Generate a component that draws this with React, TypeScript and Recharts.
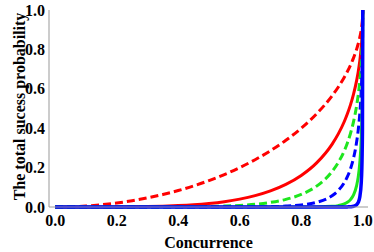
import React from 'react'
import { LineChart, Line, XAxis, YAxis, Label } from 'recharts'

// values
const concurrence = [0, 0.05, 0.1, 0.15, 0.2, 0.25, 0.3, 0.35, 0.4, 0.45, 0.5, 0.55, 0.6, 0.65, 0.7, 0.75, 0.8, 0.85, 0.9, 0.92, 0.94, 0.95, 0.96, 0.97, 0.98, 0.985, 0.99, 0.995, 0.998, 0.999, 1]
const redDashed = [0, 0.0013, 0.005, 0.0113, 0.0202, 0.0318, 0.0461, 0.0633, 0.0835, 0.107, 0.134, 0.1648, 0.2, 0.2401, 0.2859, 0.3386, 0.4, 0.4732, 0.5641, 0.6081, 0.6588, 0.6878, 0.72, 0.7569, 0.801, 0.8274, 0.8589, 0.9001, 0.9368, 0.9553, 1]
const redSolid = [0, 0, 0, 0.0001, 0.0004, 0.001, 0.0021, 0.004, 0.007, 0.0114, 0.018, 0.0272, 0.04, 0.0576, 0.0817, 0.1147, 0.16, 0.2239, 0.3182, 0.3698, 0.434, 0.4731, 0.5184, 0.5729, 0.6416, 0.6846, 0.7377, 0.8102, 0.8776, 0.9126, 1]
const greenDashed = [0, 0, 0, 0, 0, 0.00003, 0.0001, 0.00025, 0.0006, 0.0012, 0.0024, 0.0045, 0.008, 0.0138, 0.0234, 0.0388, 0.064, 0.106, 0.1795, 0.2249, 0.2859, 0.3254, 0.3732, 0.4336, 0.5139, 0.5664, 0.6336, 0.7293, 0.8221, 0.8718, 1]
const blueDashed = [0, 0, 0, 0, 0, 0, 0, 0, 0, 0.00001, 0.00004, 0.00012, 0.00032, 0.0008, 0.0019, 0.0045, 0.0102, 0.0237, 0.0571, 0.0832, 0.1241, 0.154, 0.1935, 0.2484, 0.3297, 0.3878, 0.4675, 0.5909, 0.7215, 0.7956, 1]
const greenSolid = [0, 0, 0, 0, 0, 0, 0, 0, 0, 0, 0, 0, 0, 0, 0, 0.00002, 0.0001, 0.00056, 0.0033, 0.0069, 0.0154, 0.0237, 0.0374, 0.0617, 0.1087, 0.1504, 0.2186, 0.3492, 0.5206, 0.633, 1]
const blueSolid = [0, 0, 0, 0, 0, 0, 0, 0, 0, 0, 0, 0, 0, 0, 0, 0, 0, 0, 0, 0.0001, 0.0002, 0.0006, 0.0014, 0.0038, 0.0118, 0.0226, 0.0478, 0.1219, 0.271, 0.4007, 1]

const majorTicks = [0, 0.2, 0.4, 0.6, 0.8, 1]
const minorTicks = [0, 0.05, 0.1, 0.15, 0.2, 0.25, 0.3, 0.35, 0.4, 0.45, 0.5, 0.55, 0.6, 0.65, 0.7, 0.75, 0.8, 0.85, 0.9, 0.95, 1]

const data = concurrence.map((c, i) => ({
  c,
  rd: redDashed[i],
  rs: redSolid[i],
  gd: greenDashed[i],
  bd: blueDashed[i],
  gs: greenSolid[i],
  bs: blueSolid[i],
}))

const X_DOMAIN: [number, number] = [-0.02, 1.017]
const Y_DOMAIN: [number, number] = [0, 1]
const FONT = 'Liberation Serif, Times New Roman, serif'
const FRAME = '#999'
const RED = '#ff0000'
const GREEN = '#1ee61e'
const BLUE = '#0000ff'
const DASH = '8 4'

const tickText = { fill: '#000', fontSize: 16, fontWeight: 'bold' as const, fontFamily: FONT, style: { fontFamily: FONT } }
const fmt = (v: number) => v.toFixed(1)

const YTitle = (props: any) => {
  const vb = props.viewBox
  const x = vb.x + 16.5
  const y = vb.y + vb.height / 2 - 2
  return (
    <text
      x={x}
      y={y}
      transform={`rotate(-90 ${x} ${y})`}
      textAnchor="middle"
      fill="#000"
      style={{ fontFamily: FONT, fontSize: 16, fontWeight: 'bold' }}
    >
      The total sucess probability
    </text>
  )
}

export default function App() {
  return (
    <div style={{ position: 'absolute', left: 0, top: 0, width: 374, height: 252, background: '#fff', fontFamily: FONT }}>
      <LineChart width={374} height={252} data={data} margin={{ top: 10, right: 6, bottom: 4, left: 8 }}>
        {/* inward frame ticks (Mathematica style) */}
        <XAxis xAxisId="bMaj" type="number" domain={X_DOMAIN} ticks={majorTicks} orientation="bottom" mirror height={0}
          tick={false} tickSize={4.5} axisLine={false} tickLine={{ stroke: FRAME }} />
        <XAxis xAxisId="bMin" type="number" domain={X_DOMAIN} ticks={minorTicks} orientation="bottom" mirror height={0}
          tick={false} tickSize={2.5} axisLine={false} tickLine={{ stroke: FRAME }} />
        <XAxis xAxisId="tMaj" type="number" domain={X_DOMAIN} ticks={majorTicks} orientation="top" mirror height={0}
          tick={false} tickSize={4.5} axisLine={{ stroke: FRAME }} tickLine={{ stroke: FRAME }} />
        <XAxis xAxisId="tMin" type="number" domain={X_DOMAIN} ticks={minorTicks} orientation="top" mirror height={0}
          tick={false} tickSize={2.5} axisLine={false} tickLine={{ stroke: FRAME }} />
        <YAxis yAxisId="lMaj" type="number" domain={Y_DOMAIN} ticks={majorTicks} orientation="left" mirror width={0}
          tick={false} tickSize={4.5} axisLine={false} tickLine={{ stroke: FRAME }} />
        <YAxis yAxisId="lMin" type="number" domain={Y_DOMAIN} ticks={minorTicks} orientation="left" mirror width={0}
          tick={false} tickSize={2.5} axisLine={false} tickLine={{ stroke: FRAME }} />
        <YAxis yAxisId="rMaj" type="number" domain={Y_DOMAIN} ticks={majorTicks} orientation="right" mirror width={0}
          tick={false} tickSize={4.5} axisLine={{ stroke: FRAME }} tickLine={{ stroke: FRAME }} />
        <YAxis yAxisId="rMin" type="number" domain={Y_DOMAIN} ticks={minorTicks} orientation="right" mirror width={0}
          tick={false} tickSize={2.5} axisLine={false} tickLine={{ stroke: FRAME }} />

        <XAxis
          xAxisId="x"
          type="number"
          dataKey="c"
          domain={X_DOMAIN}
          ticks={majorTicks}
          tickFormatter={fmt}
          height={41}
          tickLine={false}
          axisLine={{ stroke: FRAME }}
          tick={tickText}
        >
          <Label value="Concurrence" position="insideBottom" offset={0}
            style={{ fill: '#000', fontSize: 16, fontWeight: 'bold', fontFamily: FONT }} />
        </XAxis>
        <YAxis
          yAxisId="y"
          type="number"
          domain={Y_DOMAIN}
          ticks={majorTicks}
          tickFormatter={fmt}
          width={41}
          tickLine={false}
          tickSize={2}
          tickMargin={2}
          axisLine={{ stroke: FRAME }}
          tick={tickText}
        >
          <Label content={YTitle} />
        </YAxis>

        <Line xAxisId="x" yAxisId="y" type="monotone" dataKey="rd" stroke={RED} strokeWidth={3} strokeDasharray={DASH} dot={false} isAnimationActive={false} />
        <Line xAxisId="x" yAxisId="y" type="monotone" dataKey="rs" stroke={RED} strokeWidth={3} dot={false} isAnimationActive={false} />
        <Line xAxisId="x" yAxisId="y" type="monotone" dataKey="gd" stroke={GREEN} strokeWidth={3} strokeDasharray={DASH} dot={false} isAnimationActive={false} />
        <Line xAxisId="x" yAxisId="y" type="monotone" dataKey="bd" stroke={BLUE} strokeWidth={3} strokeDasharray={DASH} dot={false} isAnimationActive={false} />
        <Line xAxisId="x" yAxisId="y" type="monotone" dataKey="gs" stroke={GREEN} strokeWidth={3} dot={false} isAnimationActive={false} />
        <Line xAxisId="x" yAxisId="y" type="monotone" dataKey="bs" stroke={BLUE} strokeWidth={3.5} dot={false} isAnimationActive={false} />
      </LineChart>
    </div>
  )
}
